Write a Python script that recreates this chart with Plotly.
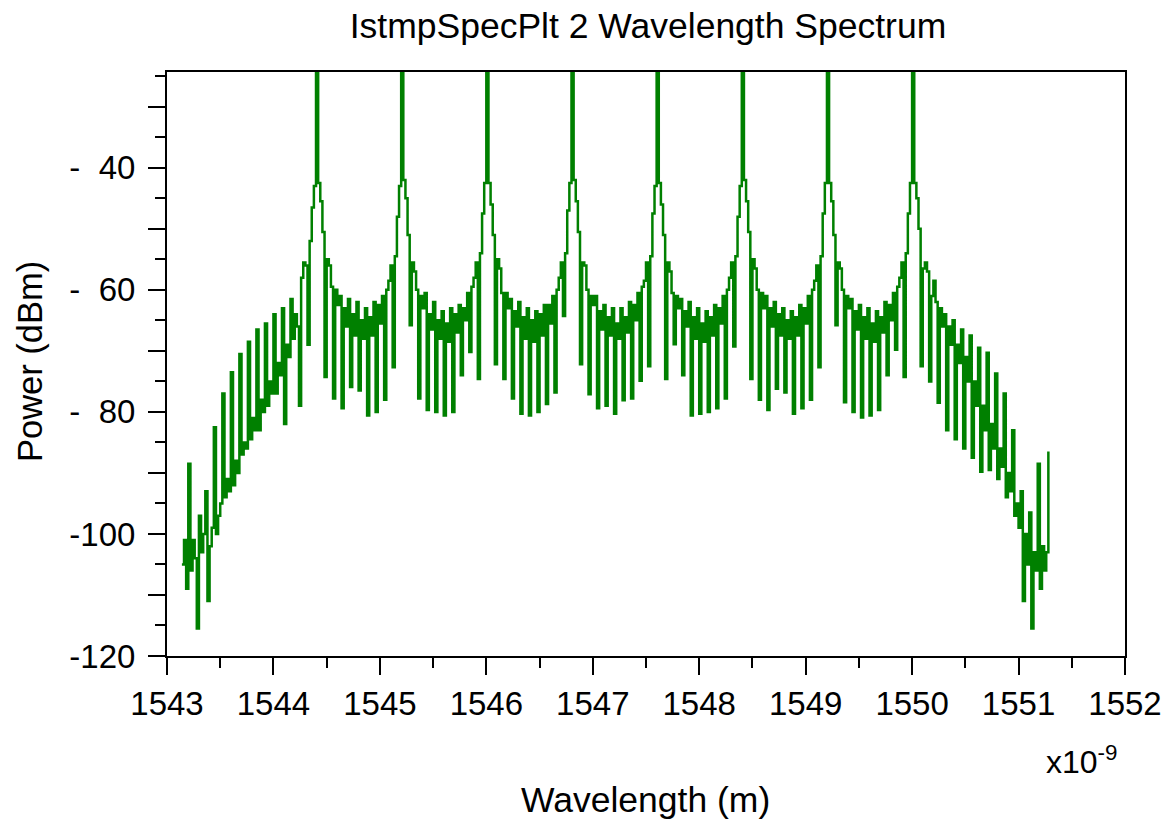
import numpy as np
import plotly.graph_objects as go

# ---- data (power in dBm, sampled every 0.02 nm starting at 1543.14 nm) ----
wl_start_nm = 1543.14
wl_step_nm = 0.02

channel_wavelengths_nm = [1544.4, 1545.2, 1546.0, 1546.8, 1547.6, 1548.4, 1549.2, 1550.0]

power_edge_left = [-105, -101, -109, -88.5, -106, -101, -104, -115.5, -97, -103,
                   -100, -93, -111, -102, -99, -82.5, -100, -97, -95, -77,
                   -94, -91, -93, -73.5, -92, -88, -90, -70.5, -87, -85,
                   -86, -68.5, -84.5, -81, -83, -66.5, -83, -78, -80, -65.5,
                   -79, -75, -77, -64, -77, -72, -74, -63, -82, -69,
                   -71, -61.5, -68, -64, -66, -79, -58, -55.5, -56, -69,
                   -52, -46.5, -43]

power_1544_4 = [0, -42.5, -45.5, -50.5, -74.3, -55, -56, -59.5,
                -77.8, -60, -62.5, -61, -79.4, -63, -66, -61.5,
                -75.9, -64, -67.5, -62, -76.5, -65, -68, -63,
                -80.6, -64.5, -67.5, -62, -80, -62.5, -65.5, -61,
                -78, -60, -58.5, -56, -72.7, -54.5, -48, -43]

power_1545_2 = [0, -42, -45, -51, -65.8, -55.5, -57, -60,
                -77.8, -61, -63, -60.5, -79.7, -64, -66.5, -62,
                -80, -65, -68, -63.5, -80.6, -65.5, -68.5, -63,
                -80, -64, -67, -62.5, -74, -63, -65, -60.5,
                -70.2, -59.5, -58, -55.5, -74.6, -54, -47.5, -42.5]

power_1546_0 = [0, -42.5, -46, -51, -72.2, -55, -56.5, -60.5,
                -74.6, -60.5, -63, -61.5, -77.8, -63.5, -66, -62,
                -80.3, -64.5, -68, -63, -80.6, -65, -68.5, -63.5,
                -80, -64, -67.5, -62.5, -78.7, -62.5, -65.5, -61,
                -76.8, -60, -58, -55.5, -64.3, -54, -47, -42.5]

power_1546_8 = [0, -42, -45.5, -50.5, -72.2, -55.5, -56, -60,
                -77.1, -61, -62.5, -61, -79.4, -63.5, -66.5, -62.5,
                -79, -64.5, -67.5, -63, -80.3, -65.5, -68, -63,
                -78.1, -64.5, -67, -62, -77.8, -62.5, -65, -60.5,
                -74.9, -59.5, -58.5, -55.5, -72.5, -54.5, -47.5, -43]

power_1547_6 = [0, -42.5, -46, -51, -74.6, -55.5, -57, -60.5,
                -68.9, -61, -63, -61.5, -74, -63.5, -66, -62,
                -80.6, -64.5, -68, -63, -80.3, -65.5, -68.5, -63.5,
                -80, -64.5, -67.5, -62.5, -79.4, -63, -65.5, -61,
                -77.8, -60, -58, -55.5, -69.3, -54.5, -48, -43]

power_1548_4 = [0, -42, -45.5, -50.5, -74.6, -55, -56.5, -60,
                -78, -60.5, -63, -61, -79.7, -63, -66, -62,
                -76.2, -64, -67.5, -63, -76.8, -65, -68, -63.5,
                -80.3, -64.5, -67.5, -62.5, -79.4, -63, -65.5, -61,
                -78, -60, -58.5, -56, -72.7, -54.5, -47.5, -42.5]

power_1549_2 = [0, -42.5, -45.5, -51, -65.8, -55.5, -56.5, -60,
                -78.4, -61, -63, -61.5, -80, -63.5, -66.5, -62.5,
                -80.9, -64.5, -68, -63, -80.6, -65.5, -68.5, -63.5,
                -79.7, -64.5, -67, -62, -74, -62.5, -65, -60.5,
                -69.8, -59.5, -58, -55.5, -74.3, -54, -47.5, -42.5]

power_edge_right = [0, -42.5, -45, -50, -72.5, -56.5, -55.5, -57,
                    -75, -61, -58.5, -62, -78.5, -63, -66, -64,
                    -83, -66, -69, -65, -84.5, -69, -72, -66.5,
                    -86, -71, -75, -67.5, -87.5, -75, -79, -69.5,
                    -89.8, -79, -83, -70.3, -89.5, -82, -86, -73.7,
                    -91, -86, -89, -77, -94, -90, -93, -83,
                    -97, -95, -99, -93, -111, -100, -105, -96.5,
                    -115.5, -103, -106, -88.5, -109, -102, -106, -103,
                    -86.5]

x_tick_labels = ["1543", "1544", "1545", "1546", "1547", "1548", "1549", "1550", "1551", "1552"]
y_tick_values = [-120, -110, -100, -90, -80, -70, -60, -50, -40, -30]
y_tick_labels = ["-120", "", "-100", "", "-\u00a0\u00a080", "", "-\u00a0\u00a060", "", "-\u00a0\u00a040", ""]

power = (power_edge_left + power_1544_4 + power_1545_2 + power_1546_0 + power_1546_8
         + power_1547_6 + power_1548_4 + power_1549_2 + power_edge_right)
wavelength_nm = np.round(wl_start_nm + wl_step_nm * np.arange(len(power)), 2)

GREEN = "#008000"
FONT = "Liberation Sans, Arial, sans-serif"

fig = go.Figure()
fig.add_trace(go.Scatter(
    x=wavelength_nm, y=power, mode="lines",
    line=dict(color=GREEN, width=2.5, shape="hv"),
    hoverinfo="x+y", showlegend=False,
))

W, H = 1175, 828
L, R, T, B = 167, 1125, 72, 656

fig.update_layout(
    width=W, height=H,
    margin=dict(l=L, r=W - R, t=T, b=H - B, pad=0),
    paper_bgcolor="white", plot_bgcolor="white",
    font=dict(family=FONT, color="black", size=33),
    showlegend=False,
    title=dict(text="IstmpSpecPlt 2 Wavelength Spectrum",
               font=dict(family=FONT, size=35.5, color="black"),
               x=648 / W, xanchor="center", xref="container",
               y=1 - 26 / H, yanchor="middle", yref="container"),
)

fig.update_xaxes(
    range=[1543, 1552], tickmode="array",
    tickvals=[int(t) for t in x_tick_labels], ticktext=x_tick_labels,
    ticks="outside", ticklen=17, tickwidth=2, tickcolor="black",
    showline=True, linewidth=2, linecolor="black", mirror=True,
    showgrid=False, zeroline=False,
    tickfont=dict(family=FONT, size=33, color="black"),
    minor=dict(tickvals=[1543.5 + i for i in range(9)], ticks="outside",
               ticklen=10, tickwidth=2, tickcolor="black", showgrid=False),
)
fig.update_yaxes(
    range=[-120, -24.3], tickmode="array",
    tickvals=y_tick_values, ticktext=y_tick_labels,
    ticks="outside", ticklen=17, tickwidth=2, tickcolor="black",
    showline=True, linewidth=2, linecolor="black", mirror=True,
    showgrid=False, zeroline=False, ticklabelstandoff=6,
    tickfont=dict(family=FONT, size=33, color="black"),
    minor=dict(tickvals=[v + 5 for v in y_tick_values], ticks="outside",
               ticklen=10, tickwidth=2, tickcolor="black", showgrid=False),
)

def px_x(x):
    return (x - L) / (R - L)

def px_y(y):
    return (B - y) / (B - T)

fig.add_annotation(text="Wavelength (m)", xref="paper", yref="paper",
                   x=px_x(645), y=px_y(800), showarrow=False,
                   xanchor="center", yanchor="middle",
                   font=dict(family=FONT, size=35.5, color="black"))
fig.add_annotation(text="Power (dBm)", xref="paper", yref="paper",
                   x=px_x(30), y=px_y(362), showarrow=False, textangle=-90,
                   xanchor="center", yanchor="middle",
                   font=dict(family=FONT, size=34.5, color="black"))
fig.add_annotation(text="x10<sup>-9</sup>", xref="paper", yref="paper",
                   x=px_x(1082), y=px_y(760), showarrow=False,
                   xanchor="center", yanchor="middle",
                   font=dict(family=FONT, size=32, color="black"))

fig.write_html("out.html")
